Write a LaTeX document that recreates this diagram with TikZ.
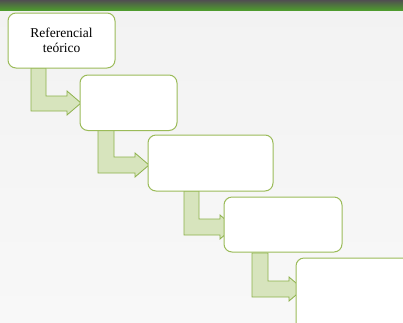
\documentclass[tikz,border=0pt]{standalone}
\usepackage{fontspec}
\setmainfont{Liberation Serif}
\definecolor{bgtop}{HTML}{F2F2F2}
\definecolor{bgbot}{HTML}{F8F8F8}
\definecolor{bardark}{HTML}{505050}
\definecolor{bargreen}{HTML}{4E9A2E}
\definecolor{boxline}{HTML}{9BBB59}
\definecolor{arrfill}{HTML}{D7E4BD}
\definecolor{arrline}{HTML}{8DB14A}
\begin{document}
\begin{tikzpicture}[x=1pt,y=-1pt,
  stepbox/.style={draw=boxline,line width=1pt,fill=white,rounded corners=8pt,inner sep=0pt,align=center,font=\fontsize{13.5}{15}\selectfont},
  bentarrow/.style={draw=arrline,fill=arrfill,line width=0.8pt,line join=miter}]
\useasboundingbox (0,0) rectangle (403,322);
\shade[top color=bgtop,bottom color=bgbot] (0,0) rectangle (403,322);
\shade[top color=bardark,bottom color=bargreen] (0,0) rectangle (403,10);
% arrows
\draw[bentarrow] (31,68) -- (46,68) -- (46,96) -- (67,96) -- (67,91) -- (81,103) -- (67,115) -- (67,111) -- (31,111) -- cycle;
\draw[bentarrow] (98,130) -- (114,130) -- (114,157) -- (135,157) -- (135,153) -- (149,165) -- (135,177) -- (135,173) -- (98,173) -- cycle;
\draw[bentarrow] (184,191) -- (199,191) -- (199,219) -- (220,219) -- (220,215) -- (234,227) -- (220,239) -- (220,235) -- (184,235) -- cycle;
\draw[bentarrow] (252,253) -- (268,253) -- (268,281) -- (289,281) -- (289,277) -- (303,289) -- (289,301) -- (289,297) -- (252,297) -- cycle;
% boxes
\node[stepbox,minimum width=107pt,minimum height=55pt] (b1) at (61.5,40.5) {Referencial\\teórico};
\node[stepbox,minimum width=97pt,minimum height=55.5pt] (b2) at (128.5,102.75) {};
\node[stepbox,minimum width=125pt,minimum height=56pt] (b3) at (210.5,163) {};
\node[stepbox,minimum width=118pt,minimum height=55pt] (b4) at (283,224.5) {};
\node[stepbox,minimum width=124pt,minimum height=82pt] (b5) at (358,299) {};
\end{tikzpicture}
\end{document}
